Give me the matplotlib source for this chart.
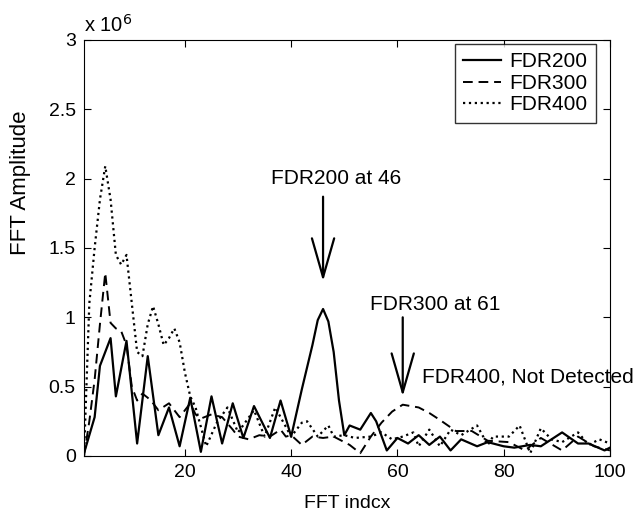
import matplotlib.pyplot as plt

plt.rcParams['font.family'] = ['Liberation Sans', 'DejaVu Sans']

# FFT amplitude (x 10^6) read at the curve vertices
idx200 = [1, 3, 4, 6, 7, 9, 11, 13, 15, 17, 19, 21, 23, 25, 27, 29, 31, 33, 36, 38,
          40, 42, 44, 45, 46, 47, 48, 49, 50, 51, 53, 55, 56, 58, 60, 62, 64, 66, 68, 70,
          72, 75, 77, 80, 82, 85, 87, 91, 94, 96, 99, 100]
amp200 = [0.02, 0.28, 0.65, 0.85, 0.43, 0.83, 0.09, 0.72, 0.15, 0.35, 0.07, 0.42, 0.03, 0.43,
          0.09, 0.38, 0.13, 0.36, 0.13, 0.40, 0.14, 0.48, 0.80, 0.98, 1.06, 0.97, 0.75, 0.40,
          0.15, 0.22, 0.19, 0.31, 0.25, 0.04, 0.13, 0.09, 0.15, 0.08, 0.14, 0.04, 0.12, 0.07,
          0.10, 0.07, 0.06, 0.08, 0.07, 0.17, 0.09, 0.09, 0.04, 0.06]

idx300 = [1, 2, 3, 4, 5, 6, 7, 8, 9, 10, 11, 12, 13, 14, 15, 17, 19, 21, 22, 23, 25, 27,
          29, 30, 32, 34, 36, 38, 39, 40, 42, 44, 46, 48, 49, 51, 53, 55, 57, 59, 61, 64,
          66, 68, 71, 74, 77, 81, 84, 87, 91, 94, 97, 100]
amp300 = [0.0, 0.25, 0.55, 0.95, 1.32, 0.96, 0.92, 0.90, 0.80, 0.50, 0.40, 0.45, 0.42, 0.38,
          0.33, 0.38, 0.28, 0.38, 0.30, 0.27, 0.30, 0.28, 0.19, 0.14, 0.12, 0.15, 0.14, 0.19,
          0.14, 0.15, 0.08, 0.14, 0.13, 0.14, 0.12, 0.08, 0.02, 0.14, 0.24, 0.32, 0.37, 0.35,
          0.31, 0.26, 0.18, 0.18, 0.11, 0.10, 0.04, 0.13, 0.04, 0.14, 0.07, 0.04]

idx400 = [1, 2, 3, 4, 5, 6, 7, 8, 9, 10, 11, 12, 13, 14, 15, 16, 17, 18, 19, 20, 21, 22,
          24, 26, 28, 30, 33, 35, 37, 40, 42, 43, 45, 47, 48, 50, 52, 55, 57, 59, 61, 63,
          64, 66, 68, 70, 72, 75, 77, 78, 81, 83, 85, 87, 89, 91, 94, 96, 98, 100]
amp400 = [0.0, 1.10, 1.50, 1.85, 2.09, 1.85, 1.45, 1.38, 1.45, 1.10, 0.75, 0.72, 0.95, 1.08,
          0.95, 0.80, 0.85, 0.92, 0.82, 0.60, 0.43, 0.35, 0.07, 0.24, 0.35, 0.17, 0.33, 0.14,
          0.35, 0.14, 0.24, 0.25, 0.14, 0.22, 0.14, 0.15, 0.13, 0.14, 0.17, 0.12, 0.14, 0.17,
          0.07, 0.19, 0.07, 0.19, 0.15, 0.22, 0.08, 0.14, 0.14, 0.22, 0.02, 0.20, 0.12, 0.10,
          0.17, 0.08, 0.12, 0.09]

fig = plt.figure(figsize=(6.34, 5.16), dpi=100)
ax = fig.add_axes([0.1325, 0.1163, 0.8295, 0.8062])

ax.plot(idx200, amp200, '-', color='black', lw=1.6, label='FDR200')
ax.plot(idx300, amp300, '--', color='black', lw=1.4, dashes=(5, 3), label='FDR300')
ax.plot(idx400, amp400, ':', color='black', lw=1.6, label='FDR400')

ax.set_xlim(1, 100)
ax.set_ylim(0, 3)
ax.set_xticks([20, 40, 60, 80, 100])
ax.set_yticks([0, 0.5, 1, 1.5, 2, 2.5, 3])
ax.set_yticklabels(['0', '0.5', '1', '1.5', '2', '2.5', '3'])
ax.tick_params(direction='in', top=True, right=True, labelsize=14, length=5, pad=6)
for s in ax.spines.values():
    s.set_linewidth(0.8)

ax.set_xlabel('FFT indcx', fontsize=14, labelpad=10)
ax.set_ylabel('FFT Amplitude', fontsize=16)
ax.yaxis.set_label_coords(-0.1, 0.656)
ax.text(0.0, 1.01, r'x 10$^{6}$', transform=ax.transAxes, fontsize=14.5, va='bottom', ha='left')

arrow = dict(arrowstyle='->,head_length=2.8,head_width=0.8', lw=1.6, color='black',
             mutation_scale=10, shrinkA=0, shrinkB=0)
ax.annotate('', xy=(46, 1.26), xytext=(46, 1.87), arrowprops=arrow)
ax.text(48.5, 2.0, 'FDR200 at 46', fontsize=15, ha='center', va='center')
ax.annotate('', xy=(61, 0.43), xytext=(61, 1.0), arrowprops=arrow)
ax.text(67.1, 1.09, 'FDR300 at 61', fontsize=15, ha='center', va='center')
ax.text(64.7, 0.57, 'FDR400, Not Detected', fontsize=15, ha='left', va='center')

ax.legend(loc='upper right', bbox_to_anchor=(0.973, 0.99), fontsize=15, frameon=True,
          fancybox=False, edgecolor='black', handlelength=1.8, handletextpad=0.4,
          borderaxespad=0, labelspacing=0.12, borderpad=0.4)

fig.savefig('out.png', dpi=100)
